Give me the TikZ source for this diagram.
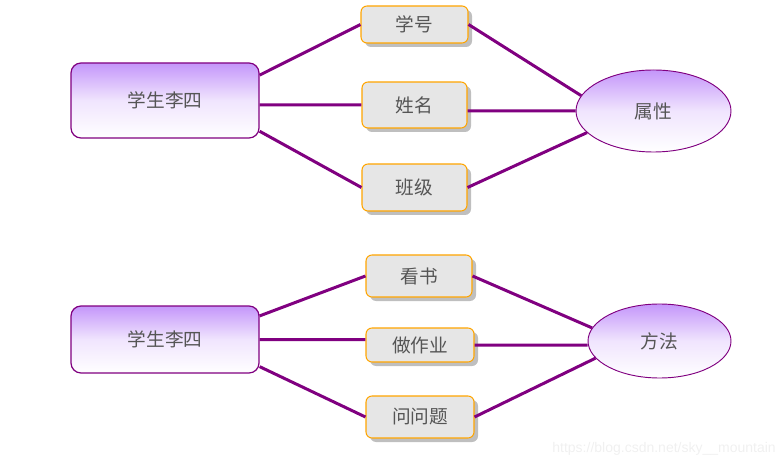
\documentclass[tikz,border=0pt]{standalone}
\usepackage{fontspec}
\setmainfont{Liberation Sans}
\newfontfamily\cjk{Noto Sans CJK SC}
\usetikzlibrary{shapes.geometric,shadows}
\definecolor{lineviolet}{RGB}{128,0,128}
\definecolor{boxorange}{RGB}{255,165,0}
\definecolor{boxgray}{RGB}{230,230,230}
\definecolor{textgray}{RGB}{85,85,85}
\definecolor{topviolet}{RGB}{196,150,250}

\begin{document}
\begin{tikzpicture}[x=0.75pt,y=-0.75pt,
  student/.style={draw=lineviolet, line width=0.9pt, rounded corners=7.5pt,
                  top color=topviolet, bottom color=white, middle color=topviolet!25,
                  minimum width=141pt,
                  text=textgray, font=\cjk\fontsize{14}{16}\selectfont},
  item/.style={draw=boxorange, line width=0.8pt, fill=boxgray, rounded corners=4.5pt,
               inner sep=2pt, text=textgray, font=\cjk\fontsize{14}{16}\selectfont,
               drop shadow={shadow xshift=3pt, shadow yshift=-3pt, fill=black!25, opacity=1}},
  group/.style={ellipse, draw=lineviolet, line width=0.7pt, inner sep=0pt,
                top color=topviolet, bottom color=white, middle color=topviolet!25,
                text=textgray, font=\cjk\fontsize{14}{16}\selectfont},
  link/.style={lineviolet, line width=2.25pt}]
  \useasboundingbox (0 , 0) rectangle (784 , 466);

  % 属性
  \node[student, minimum height=56.25pt] (stuA) at (165 , 100.5) {学生李四};
  \node[item, minimum width=80.25pt, minimum height=27.75pt] (num)  at (414.5 , 24.5)  {学号};
  \node[item, minimum width=78.75pt, minimum height=34.5pt]  (name) at (414.5 , 105)   {姓名};
  \node[item, minimum width=78.75pt, minimum height=35.25pt] (cls)  at (414.5 , 187.5) {班级};
  \node[group, minimum width=116.25pt, minimum height=61.5pt] (attr) at (653.5 , 111) {属性};
  \draw[link] (stuA.15) -- (num.west)
              (stuA.east |- name.west) -- (name.west)
              (stuA.342) -- (cls.west);
  \draw[link] (num.east) -- (attr.168)
              (name.east |- attr.west) -- (attr.west)
              (cls.east) -- (attr.198);

  % 方法
  \node[student, minimum height=50.25pt] (stuB) at (165 , 339.5) {学生李四};
  \node[item, minimum width=79.5pt, minimum height=31.5pt] (read) at (419 , 276) {看书};
  \node[item, minimum width=81pt, minimum height=25.5pt]   (work) at (420 , 345) {做作业};
  \node[item, minimum width=81pt, minimum height=31.5pt]   (ask)  at (420 , 417) {问问题};
  \node[group, minimum width=107.25pt, minimum height=55.5pt] (meth) at (659.5 , 341) {方法};
  \draw[link] (stuB.14) -- (read.west)
              (stuB.east) -- (stuB.east -| work.west)
              (stuB.344) -- (ask.west);
  \draw[link] (read.east) -- (meth.169)
              (work.east) -- (work.east -| meth.west)
              (ask.east) -- (meth.195);

  \node[anchor=east, inner sep=0pt, text=black!6, font=\fontsize{10.5}{12}\selectfont]
       (mark) at (776 , 449) {https://blog.csdn.net/sky\_\_mountain};
\end{tikzpicture}
\end{document}
